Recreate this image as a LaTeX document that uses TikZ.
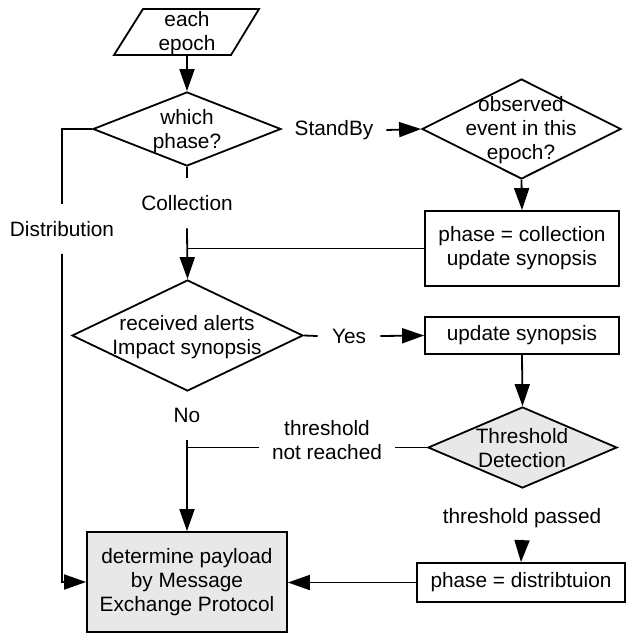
\documentclass[tikz,border=0pt]{standalone}
\usepackage{fontspec}
\setmainfont{Liberation Sans}
\usetikzlibrary{shapes.geometric,arrows.meta}
\definecolor{shade}{RGB}{232,232,232}
\begin{document}
\begin{tikzpicture}[x=0.5pt,y=-0.5pt, line width=0.9pt,
  every node/.style={font=\fontsize{10.4pt}{12pt}\selectfont, align=center},
  dia/.style={diamond, draw, inner sep=0pt},
  box/.style={rectangle, draw, inner sep=0pt},
  lbl/.style={inner sep=0pt},
  arr/.style={-{Triangle[length=11pt,width=7.5pt]}}]
\useasboundingbox (0,0) rectangle (626,633);

% start parallelogram
\draw (143,9) -- (259,9) -- (231,55) -- (114,55) -- cycle;
\coordinate (startb) at (187,55);
\node[lbl] (start) at (187,33) {each\\epoch};

% diamonds
\node[dia, minimum width=94pt, minimum height=37pt] (d1) at (187,129) {};
\node[lbl] (d1t) at (187,131) {which\\phase?};
\node[dia, minimum width=99.5pt, minimum height=50pt] (d3) at (521.5,129) {};
\node[lbl] (d3t) at (521,130) {observed\\event in this\\epoch?};
\node[dia, minimum width=115.5pt, minimum height=55.5pt] (d2) at (187.5,335.5) {};
\node[lbl] (d2t) at (187,337) {received alerts\\Impact synopsis};
\node[dia, fill=shade, minimum width=94.5pt, minimum height=40.5pt] (dT) at (522.5,447.5) {};
\node[lbl] (dTt) at (522,448) {Threshold\\Detection};

% boxes
\node[box, minimum width=97pt, minimum height=37.5pt] (b1) at (522,248.5) {phase = collection\\update synopsis};
\node[box, minimum width=97pt, minimum height=18.5pt] (b2) at (522,335.5) {update synopsis};
\node[box, minimum width=104pt, minimum height=19.5pt] (b3) at (521,582.5) {phase = distribtuion};
\node[box, fill=shade, minimum width=100pt, minimum height=50pt] (g) at (187,582) {determine payload\\by Message\\Exchange Protocol};

% labels
\node[lbl, minimum width=51.5pt] (SB) at (334,130) {StandBy};
\node[lbl, minimum height=24.5pt] (col) at (187,203) {Collection};
\node[lbl, minimum height=24pt] (dist) at (62,229) {Distribution};
\node[lbl, minimum width=30.5pt] (yes) at (349,336) {Yes};
\node[lbl, minimum height=24pt] (no) at (187,415) {No};
\node[lbl, minimum width=67pt] (nr) at (327,440) {threshold\\not reached};
\node[lbl, minimum height=21pt] (tp) at (522,518) {threshold passed};

% connectors
\draw[arr] (startb) -- (d1.north);
\draw (d1.west) -| (dist.north);
\draw[arr] (dist.south) |- (g.west);
\draw[arr] (SB.east) -- (d3.west);
\draw[arr] (d3.south) -- (b1.north);
\draw (d1.south) -- (col.north);
\draw[arr] (col.south) -- (d2.north);
\draw (b1.west) -- (b1.west -| col.south);
\draw (d2.east) -- (yes.west);
\draw[arr] (yes.east) -- (b2.west);
\draw[arr] (b2.south) -- (dT.north);
\draw (dT.west) -- (dT.west -| nr.east);
\draw (nr.west |- dT.west) -- (no.south |- dT.west);
\draw[arr] (no.south) -- (g.north);
\draw[arr] (tp.south) -- (b3.north);
\draw[arr] (b3.west) -- (b3.west -| g.east);
\end{tikzpicture}
\end{document}
